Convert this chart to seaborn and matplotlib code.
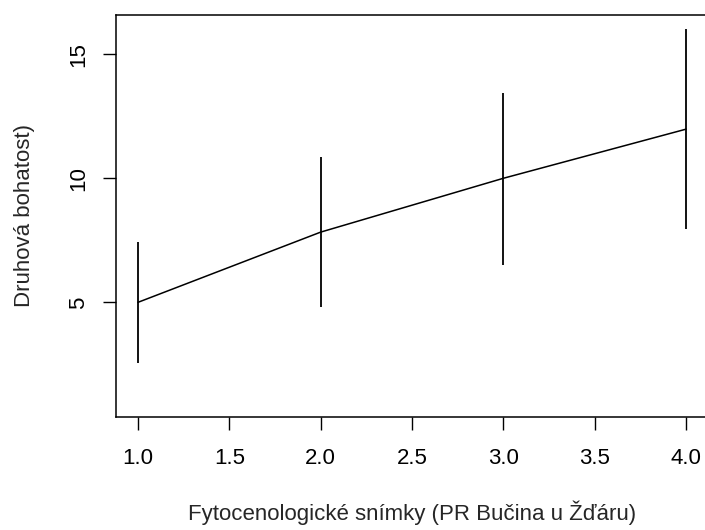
import matplotlib
matplotlib.use("Agg")
import matplotlib.pyplot as plt
import seaborn as sns
import pandas as pd

# Data
sites = [1, 2, 3, 4]
richness = [5.0, 7.83, 10.0, 11.98]
lower = [2.56, 4.81, 6.52, 7.97]
upper = [7.43, 10.85, 13.43, 16.0]
xticks = [1.0, 1.5, 2.0, 2.5, 3.0, 3.5, 4.0]
xtick_labels = ["1.0", "1.5", "2.0", "2.5", "3.0", "3.5", "4.0"]
yticks = [5, 10, 15]
ytick_labels = ["5", "10", "15"]

sns.set_style("ticks")
plt.rcParams['font.family'] = ['Liberation Sans', 'DejaVu Sans']

df = pd.DataFrame({"x": sites, "y": richness})

fig = plt.figure(figsize=(7.05, 5.30), dpi=100)
ax = fig.add_axes([116/705, (530-416.5)/530, (708-116)/705, (416.5-14.5)/530])

sns.lineplot(data=df, x="x", y="y", ax=ax, color="black", linewidth=1.1,
             errorbar=None)
ax.vlines(sites, lower, upper, color="black", linewidth=1.3)

ax.set_xlim(0.88, 4.12)
ax.set_ylim(0.4, 16.6)
ax.set_xticks(xticks)
ax.set_xticklabels(xtick_labels)
ax.set_yticks(yticks)
ax.set_yticklabels(ytick_labels, rotation=90, va="center")

for s in ax.spines.values():
    s.set_visible(True)
    s.set_linewidth(1.1)
    s.set_color("black")

ax.tick_params(axis="both", direction="out", length=9.5, width=1.0,
               labelsize=16, colors="black")
ax.tick_params(axis="x", pad=13)
ax.tick_params(axis="y", pad=10)

ax.set_xlabel("Fytocenologické snímky (PR Bučina u Žďáru)", fontsize=16,
              labelpad=23)
ax.set_ylabel("Druhová bohatost)", fontsize=16, labelpad=24)

fig.savefig("out.png", dpi=100, facecolor="white")
